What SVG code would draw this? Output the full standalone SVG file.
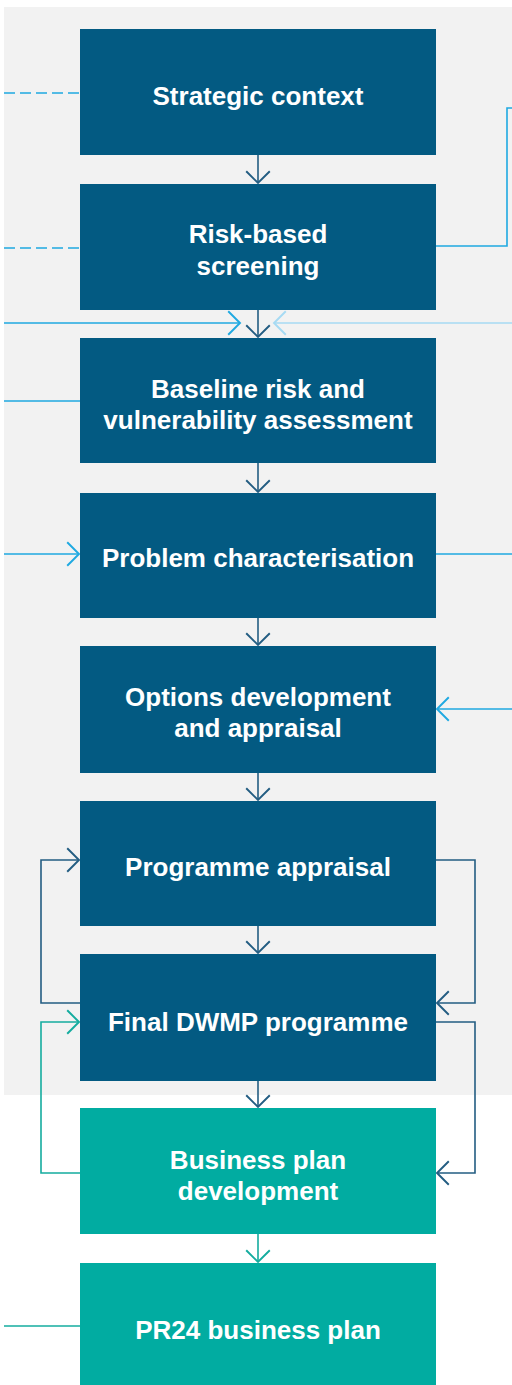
<svg xmlns="http://www.w3.org/2000/svg" width="512" height="1385" viewBox="0 0 512 1385">
<style>
.box{fill:#035A82}
.tbox{fill:#01ACA1}
.lbl{font-family:"Liberation Sans",Arial,sans-serif;font-weight:bold;font-size:26px;fill:#ffffff;text-anchor:middle}
.c{fill:none;stroke-width:1.6}
.dk{stroke:#235D82}
.cy{stroke:#1FA9E1}
.lt{stroke:#A6DAF3}
.tl{stroke:#14AC9F}
.dash{stroke-dasharray:11 5}
</style>
<defs>
<marker id="aDk" markerUnits="userSpaceOnUse" markerWidth="30" markerHeight="30" viewBox="-14 -14 28 28" refX="0" refY="0" orient="auto"><path d="M-11,-11 L0,0 L-11,11" fill="none" stroke="#235D82" stroke-width="1.8"/></marker>
<marker id="aCy" markerUnits="userSpaceOnUse" markerWidth="30" markerHeight="30" viewBox="-14 -14 28 28" refX="0" refY="0" orient="auto"><path d="M-11,-11 L0,0 L-11,11" fill="none" stroke="#1FA9E1" stroke-width="1.8"/></marker>
<marker id="aLt" markerUnits="userSpaceOnUse" markerWidth="30" markerHeight="30" viewBox="-14 -14 28 28" refX="0" refY="0" orient="auto"><path d="M-11,-11 L0,0 L-11,11" fill="none" stroke="#A6DAF3" stroke-width="1.8"/></marker>
<marker id="aTl" markerUnits="userSpaceOnUse" markerWidth="30" markerHeight="30" viewBox="-14 -14 28 28" refX="0" refY="0" orient="auto"><path d="M-11,-11 L0,0 L-11,11" fill="none" stroke="#14AC9F" stroke-width="1.8"/></marker>
</defs>
<rect x="0" y="0" width="512" height="1385" fill="#ffffff"/>
<rect x="4" y="7" width="508" height="1088" fill="#F2F2F2"/>

<g id="connectors">
<path class="c cy dash" d="M4,93 H80"/>
<path class="c cy dash" d="M4,248 H80"/>
<path class="c cy" d="M436,246 H507 V108 H512"/>
<path class="c cy" d="M4,323 H240" marker-end="url(#aCy)"/>
<path class="c lt" d="M512,323 H274" marker-end="url(#aLt)"/>
<path class="c cy" d="M4,401 H80"/>
<path class="c cy" d="M4,554 H79" marker-end="url(#aCy)"/>
<path class="c cy" d="M436,554 H512"/>
<path class="c cy" d="M512,709 H437" marker-end="url(#aCy)"/>
<path class="c dk" d="M258,155 V183" marker-end="url(#aDk)"/>
<path class="c dk" d="M258,310 V337" marker-end="url(#aDk)"/>
<path class="c dk" d="M258,463 V492" marker-end="url(#aDk)"/>
<path class="c dk" d="M258,618 V645" marker-end="url(#aDk)"/>
<path class="c dk" d="M258,773 V800" marker-end="url(#aDk)"/>
<path class="c dk" d="M258,926 V953" marker-end="url(#aDk)"/>
<path class="c dk" d="M258,1081 V1107" marker-end="url(#aDk)"/>
<path class="c tl" d="M258,1234 V1262" marker-end="url(#aTl)"/>
<path class="c dk" d="M80,1003 H41 V860 H79" marker-end="url(#aDk)"/>
<path class="c dk" d="M436,860 H475 V1003 H437" marker-end="url(#aDk)"/>
<path class="c dk" d="M436,1022 H475 V1173 H437" marker-end="url(#aDk)"/>
<path class="c tl" d="M80,1173 H41 V1022 H79" marker-end="url(#aTl)"/>
<path class="c tl" d="M4,1326 H80"/>
</g>

<g id="n1"><rect class="box" x="80" y="29" width="356" height="126"/><text class="lbl" x="258" y="105">Strategic context</text></g>
<g id="n2"><rect class="box" x="80" y="184" width="356" height="126"/><text class="lbl" x="258" y="243">Risk-based</text><text class="lbl" x="258" y="275">screening</text></g>
<g id="n3"><rect class="box" x="80" y="338" width="356" height="125"/><text class="lbl" x="258" y="398">Baseline risk and</text><text class="lbl" x="258" y="429">vulnerability assessment</text></g>
<g id="n4"><rect class="box" x="80" y="493" width="356" height="125"/><text class="lbl" x="258" y="567">Problem characterisation</text></g>
<g id="n5"><rect class="box" x="80" y="646" width="356" height="127"/><text class="lbl" x="258" y="706">Options development</text><text class="lbl" x="258" y="737">and appraisal</text></g>
<g id="n6"><rect class="box" x="80" y="801" width="356" height="125"/><text class="lbl" x="258" y="876">Programme appraisal</text></g>
<g id="n7"><rect class="box" x="80" y="954" width="356" height="127"/><text class="lbl" x="258" y="1031">Final DWMP programme</text></g>
<g id="n8"><rect class="tbox" x="80" y="1108" width="356" height="126"/><text class="lbl" x="258" y="1169">Business plan</text><text class="lbl" x="258" y="1200">development</text></g>
<g id="n9"><rect class="tbox" x="80" y="1263" width="356" height="130"/><text class="lbl" x="258" y="1339">PR24 business plan</text></g>
</svg>
